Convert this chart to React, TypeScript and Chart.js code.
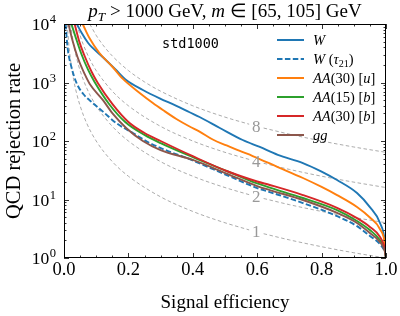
import React, { useEffect, useRef } from "react";
import { Chart, registerables } from "chart.js";

Chart.register(...registerables);

// ---------------- data ----------------
const effW = [0.04, 0.055, 0.075, 0.089, 0.12, 0.16, 0.193, 0.245, 0.297, 0.349, 0.39, 0.421, 0.484, 0.555, 0.608, 0.664, 0.742, 0.8, 0.848, 0.91, 0.95, 0.981, 0.997, 1.0];
const rejW = [10000, 7000, 4730, 3900, 2730, 1670, 1100, 745, 537, 400, 310, 257, 167, 104, 79, 58, 42, 30, 21.5, 12.9, 7.4, 4.0, 1.8, 1.0];

const effWtau = [0.005, 0.011, 0.023, 0.039, 0.06, 0.079, 0.121, 0.162, 0.214, 0.266, 0.318, 0.39, 0.4, 0.505, 0.6, 0.639, 0.742, 0.848, 0.91, 0.95, 0.981, 0.997, 1.0];
const rejWtau = [10000, 4000, 1840, 980, 635, 500, 318, 203, 137, 92.4, 69, 49, 46.5, 26.2, 15.7, 13.4, 8.7, 5.2, 3.5, 2.38, 1.73, 1.22, 1.0];

const effAA30u = [0.058, 0.079, 0.11, 0.151, 0.183, 0.235, 0.276, 0.307, 0.349, 0.39, 0.421, 0.462, 0.505, 0.546, 0.586, 0.664, 0.742, 0.8, 0.848, 0.91, 0.95, 0.981, 0.997, 1.0];
const rejAA30u = [10000, 5770, 3190, 1840, 1150, 662, 446, 339, 238, 177, 145, 106, 83.8, 67.5, 55.4, 35.9, 23.3, 16.4, 11.9, 7.45, 4.92, 3.13, 1.67, 1.0];

const effAA15b = [0.023, 0.039, 0.054, 0.075, 0.095, 0.14, 0.19, 0.25, 0.3, 0.4, 0.505, 0.6, 0.639, 0.742, 0.848, 0.91, 0.95, 0.981, 0.997, 1.0];
const rejAA15b = [10000, 5330, 3070, 1640, 1020, 429, 211, 127, 92, 53, 30.7, 18.8, 16.0, 10.6, 6.6, 4.3, 3.0, 2.03, 1.32, 1.0];

const effAA30b = [0.033, 0.048, 0.064, 0.086, 0.105, 0.15, 0.2, 0.25, 0.3, 0.4, 0.505, 0.6, 0.639, 0.742, 0.848, 0.91, 0.95, 0.981, 0.997, 1.0];
const rejAA30b = [10000, 4900, 2840, 1510, 980, 430, 211, 137, 100, 55, 30.7, 20.3, 17.7, 11.9, 7.2, 4.8, 3.4, 2.3, 1.37, 1.0];

const effGG = [0.014, 0.026, 0.042, 0.064, 0.08, 0.121, 0.152, 0.193, 0.245, 0.3, 0.4, 0.505, 0.6, 0.639, 0.742, 0.848, 0.91, 0.95, 0.981, 0.997, 1.0];
const rejGG = [10000, 5330, 2730, 1400, 943, 500, 290, 167, 100, 70, 47.4, 27.8, 17.0, 14.5, 9.8, 5.9, 3.97, 2.67, 1.88, 1.27, 1.0];

// iso-significance-improvement contours (grey dashed), null = label gap
const effC1 = [0.01, 0.015, 0.02, 0.03, 0.04, 0.05, 0.07, 0.1, 0.15, 0.2, 0.3, 0.4, 0.5, 0.575, 0.6, 0.62, 0.7, 0.8, 0.9, 1.0];
const rejC1 = [10000, 4444, 2500, 1111, 625, 400, 204, 100, 44.4, 25, 11.1, 6.25, 4, 3.02, null, 2.6, 2.04, 1.56, 1.23, 1.0];
const effC2 = [0.02, 0.03, 0.04, 0.05, 0.07, 0.1, 0.15, 0.2, 0.3, 0.4, 0.5, 0.575, 0.6, 0.62, 0.7, 0.8, 0.9, 1.0];
const rejC2 = [10000, 4444, 2500, 1600, 816, 400, 178, 100, 44.4, 25, 16, 12.1, null, 10.4, 8.16, 6.25, 4.94, 4.0];
const effC4 = [0.04, 0.05, 0.06, 0.08, 0.1, 0.15, 0.2, 0.3, 0.4, 0.5, 0.575, 0.6, 0.62, 0.7, 0.8, 0.9, 1.0];
const rejC4 = [10000, 6400, 4444, 2500, 1600, 711, 400, 178, 100, 64, 48.4, null, 41.6, 32.7, 25, 19.8, 16];
const effC8 = [0.08, 0.1, 0.12, 0.15, 0.2, 0.25, 0.3, 0.4, 0.5, 0.575, 0.6, 0.62, 0.7, 0.8, 0.9, 1.0];
const rejC8 = [10000, 6400, 4444, 2844, 1600, 1024, 711, 400, 256, 193.6, null, 166.5, 131, 100, 79, 64];

const contourLabels = ["1", "2", "4", "8"];
const contourLabelEff = 0.597;
const contourLabelRej = [2.8, 11.2, 45, 180];

const xTicks = [0, 0.2, 0.4, 0.6, 0.8, 1.0];
const xTickLabels = ["0.0", "0.2", "0.4", "0.6", "0.8", "1.0"];
const yTicks = [1, 10, 100, 1000, 10000];
const yTickExps = ["0", "1", "2", "3", "4"];

const SERIF = '"Liberation Serif", "Times New Roman", serif';
const MONO = '"DejaVu Sans Mono", monospace';

type Run = { t: string; it?: boolean; sub?: boolean };

function runFont(r: Run, size: number) {
  const s = r.sub ? size * 0.7 : size;
  return `${r.it ? "italic " : ""}${s}px ${SERIF}`;
}
function drawRuns(ctx: CanvasRenderingContext2D, runs: Run[], x: number, y: number, size: number, align: "left" | "center") {
  let total = 0;
  const widths = runs.map((r) => {
    ctx.font = runFont(r, size);
    const w = ctx.measureText(r.t).width;
    total += w;
    return w;
  });
  let cx = align === "center" ? x - total / 2 : x;
  ctx.textAlign = "left";
  ctx.textBaseline = "alphabetic";
  runs.forEach((r, i) => {
    ctx.font = runFont(r, size);
    ctx.fillText(r.t, cx, y + (r.sub ? size * 0.22 : 0));
    cx += widths[i];
  });
}

const seriesDefs = [
  { eff: effW, rej: rejW, color: "#1f77b4", dash: [] as number[], label: [{ t: "W", it: true }] as Run[], order: 6 },
  { eff: effWtau, rej: rejWtau, color: "#1f77b4", dash: [5.5, 2.4], label: [{ t: "W", it: true }, { t: " (" }, { t: "τ", it: true }, { t: "21", sub: true }, { t: ")" }] as Run[], order: 5 },
  { eff: effAA30u, rej: rejAA30u, color: "#ff7f0e", dash: [], label: [{ t: "AA", it: true }, { t: "(30) [" }, { t: "u", it: true }, { t: "]" }] as Run[], order: 4 },
  { eff: effAA15b, rej: rejAA15b, color: "#2ca02c", dash: [], label: [{ t: "AA", it: true }, { t: "(15) [" }, { t: "b", it: true }, { t: "]" }] as Run[], order: 3 },
  { eff: effAA30b, rej: rejAA30b, color: "#d62728", dash: [], label: [{ t: "AA", it: true }, { t: "(30) [" }, { t: "b", it: true }, { t: "]" }] as Run[], order: 2 },
  { eff: effGG, rej: rejGG, color: "#8c564b", dash: [], label: [{ t: "gg", it: true }] as Run[], order: 1 },
];
const contourDefs = [
  { eff: effC1, rej: rejC1 },
  { eff: effC2, rej: rejC2 },
  { eff: effC4, rej: rejC4 },
  { eff: effC8, rej: rejC8 },
];

const decor = {
  id: "decor",
  afterDatasetsDraw(chart: any) {
    const ctx: CanvasRenderingContext2D = chart.ctx;
    const a = chart.chartArea;
    const xs = chart.scales.x;
    const ys = chart.scales.y;
    ctx.save();

    // contour labels
    ctx.fillStyle = "#999999";
    ctx.font = `17px ${SERIF}`;
    ctx.textAlign = "center";
    ctx.textBaseline = "middle";
    contourLabels.forEach((lab, i) => {
      ctx.fillText(lab, xs.getPixelForValue(contourLabelEff), ys.getPixelForValue(contourLabelRej[i]) + 1);
    });

    // frame
    ctx.strokeStyle = "#000";
    ctx.lineWidth = 1;
    ctx.strokeRect(a.left + 0.5, a.top + 0.5, a.right - a.left - 1, a.bottom - a.top - 1);

    // x ticks
    ctx.lineWidth = 0.8;
    ctx.beginPath();
    for (let i = 0; i <= 20; i++) {
      const v = i * 0.05;
      const major = i % 4 === 0;
      const len = major ? 5 : 2.5;
      const px = Math.round(xs.getPixelForValue(v)) + 0.5;
      ctx.moveTo(px, a.bottom);
      ctx.lineTo(px, a.bottom - len);
      ctx.moveTo(px, a.top);
      ctx.lineTo(px, a.top + len);
    }
    // y ticks
    for (let d = 0; d <= 4; d++) {
      for (let m = 1; m <= 9; m++) {
        if (d === 4 && m > 1) break;
        const v = m * Math.pow(10, d);
        const len = m === 1 ? 5 : 2.5;
        const py = Math.round(ys.getPixelForValue(v)) + 0.5;
        ctx.moveTo(a.left, py);
        ctx.lineTo(a.left + len, py);
        ctx.moveTo(a.right, py);
        ctx.lineTo(a.right - len, py);
      }
    }
    ctx.stroke();

    // x tick labels
    ctx.fillStyle = "#000";
    ctx.font = `18.5px ${SERIF}`;
    ctx.textAlign = "center";
    ctx.textBaseline = "alphabetic";
    xTicks.forEach((v, i) => ctx.fillText(xTickLabels[i], xs.getPixelForValue(v), a.bottom + 17));

    // y tick labels 10^n
    yTicks.forEach((v, i) => {
      const py = ys.getPixelForValue(v);
      ctx.font = `12.5px ${SERIF}`;
      const ew = ctx.measureText(yTickExps[i]).width;
      ctx.textAlign = "right";
      ctx.fillText(yTickExps[i], 56, py - 1);
      ctx.font = `17.5px ${SERIF}`;
      ctx.fillText("10", 56 - ew - 0.5, py + 6);
    });

    // axis titles
    ctx.font = `19px ${SERIF}`;
    ctx.textAlign = "center";
    ctx.fillText("Signal efficiency", (a.left + a.right) / 2, 308);
    ctx.save();
    ctx.translate(19.5, (a.top + a.bottom) / 2);
    ctx.rotate(-Math.PI / 2);
    ctx.font = `20.5px ${SERIF}`;
    ctx.fillText("QCD rejection rate", 0, 0);
    ctx.restore();

    // title
    drawRuns(ctx, [{ t: "p", it: true }, { t: "T", it: true, sub: true }, { t: " > 1000 GeV, " }, { t: "m", it: true }, { t: " ∈ [65, 105] GeV" }], (a.left + a.right) / 2, 17, 19, "center");

    // annotation
    ctx.font = `13.5px ${MONO}`;
    ctx.textAlign = "left";
    ctx.fillText("std1000", 162, 48);

    // legend
    seriesDefs.forEach((s, i) => {
      const y = 40 + i * 19;
      ctx.strokeStyle = s.color;
      ctx.lineWidth = 2;
      ctx.setLineDash(s.dash);
      ctx.beginPath();
      ctx.moveTo(277, y);
      ctx.lineTo(304, y);
      ctx.stroke();
      ctx.setLineDash([]);
      ctx.fillStyle = "#000";
      drawRuns(ctx, s.label, 313, y + 5, 14.5, "left");
    });

    ctx.restore();
  },
};

export default function App() {
  const ref = useRef<HTMLCanvasElement>(null);
  useEffect(() => {
    const canvas = ref.current!;
    const toPts = (xs: number[], ys: (number | null)[]) => xs.map((x, i) => ({ x, y: ys[i] }));
    const datasets: any[] = [];
    contourDefs.forEach((c) => {
      datasets.push({
        data: toPts(c.eff, c.rej),
        borderColor: "#a2a2a2",
        borderWidth: 0.9,
        borderDash: [3.5, 2.5],
        cubicInterpolationMode: "monotone",
        spanGaps: false,
        pointRadius: 0,
        fill: false,
        order: 10,
      });
    });
    seriesDefs.forEach((s) => {
      datasets.push({
        data: toPts(s.eff, s.rej),
        borderColor: s.color,
        borderWidth: 1.9,
        borderDash: s.dash,
        cubicInterpolationMode: "monotone",
        pointRadius: 0,
        fill: false,
        order: s.order,
      });
    });
    const chart = new Chart(canvas, {
      type: "line",
      data: { datasets },
      options: {
        responsive: false,
        animation: false,
        devicePixelRatio: 1,
        layout: { padding: { left: 64, right: 14, top: 24, bottom: 58 } },
        plugins: { legend: { display: false }, tooltip: { enabled: false } },
        elements: { point: { radius: 0 } },
        scales: {
          x: { type: "linear", min: 0, max: 1, display: false },
          y: { type: "logarithmic", min: 1, max: 10000, display: false },
        },
      },
      plugins: [decor],
    } as any);
    return () => chart.destroy();
  }, []);
  return (
    <div style={{ position: "fixed", left: 0, top: 0, width: 400, height: 316, background: "#fff" }}>
      <canvas ref={ref} width={400} height={316} style={{ display: "block" }} />
    </div>
  );
}
